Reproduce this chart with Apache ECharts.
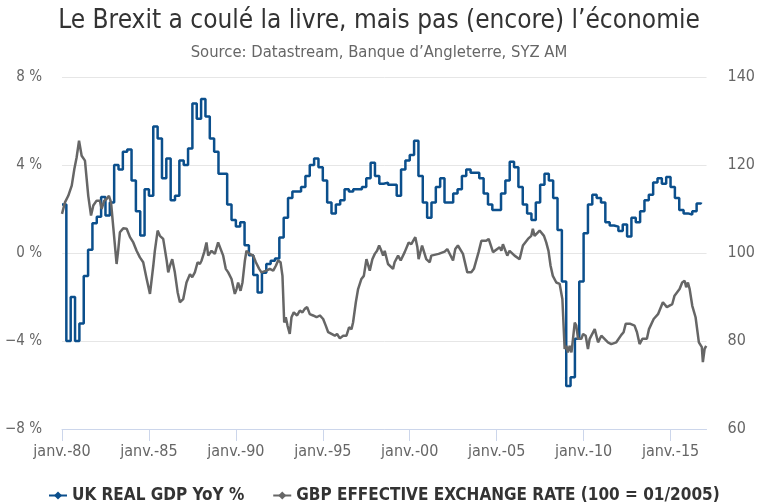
<!DOCTYPE html>
<html>
<head>
<meta charset="utf-8">
<script src="https://cdn.jsdelivr.net/npm/echarts@6/dist/echarts.min.js"></script>
<style>
  html, body { margin: 0; padding: 0; background: #fff; }
  #chart { width: 758px; height: 504px; }
</style>
</head>
<body>
<div id="chart"></div>
<script>
// PIB réel UK, glissement annuel en %, un point par trimestre (T1 1980 -> T4 2016)
const gdpStartYear = 1980;
const gdpYoY = [
  2.2, -4.0, -2.0, -4.0,
  -3.2, -1.05, 0.15, 1.35,
  1.65, 2.55, 1.7, 2.3,
  4.0, 3.8, 4.6, 4.7,
  3.3, 1.9, 0.8, 2.9,
  2.6, 5.75, 5.2, 3.4,
  4.3, 2.4, 2.6, 4.2,
  4.0, 4.75, 6.8, 6.1,
  7.0, 6.2, 5.2, 4.6,
  3.6, 3.6, 2.2, 1.5,
  1.2, 1.4, 0.35, -0.1,
  -1.0, -1.8, -0.9, -0.5,
  -0.35, -0.25, 0.7, 1.6,
  2.5, 2.8, 2.8, 3.0,
  3.5, 4.0, 4.3, 3.9,
  3.3, 2.3, 1.8, 2.2,
  2.4, 2.9, 2.8, 2.9,
  2.9, 3.0, 3.4, 4.1,
  3.5, 3.15, 3.2, 3.1,
  3.1, 2.6, 3.8, 4.2,
  4.45, 5.1, 3.5, 2.3,
  1.6, 2.3, 3.0, 3.4,
  2.3, 2.3, 2.7, 2.9,
  3.5, 3.8, 3.65, 3.65,
  3.4, 2.7, 2.2, 1.95,
  1.95, 2.7, 3.3, 4.15,
  3.9, 3.0, 2.2, 1.8,
  1.5, 2.3, 3.1, 3.6,
  3.3, 2.5, 1.05, -1.3,
  -6.05, -5.65, -3.9, -1.3,
  0.9, 2.2, 2.65, 2.5,
  2.3, 1.4, 1.25, 1.2,
  1.0, 1.3, 0.75, 1.6,
  1.4, 1.9, 2.4, 2.65,
  3.2, 3.4, 3.15, 3.45,
  3.0, 2.5, 1.95, 1.8,
  1.75, 1.9, 2.25, 2.3
];

// taux de change effectif GBP (100 = 01/2005)
const fxYears = [
  1980.00, 1980.17, 1980.36, 1980.56, 1980.71, 1980.84, 1980.98, 1981.03, 1981.13, 1981.32,
  1981.42, 1981.51, 1981.67, 1981.80, 1981.99, 1982.18, 1982.28, 1982.43, 1982.57, 1982.70,
  1982.82, 1982.95, 1983.14, 1983.24, 1983.33, 1983.52, 1983.72, 1983.91, 1984.10, 1984.29,
  1984.48, 1984.67, 1984.87, 1985.06, 1985.15, 1985.25, 1985.34, 1985.50, 1985.63, 1985.82,
  1986.02, 1986.11, 1986.21, 1986.34, 1986.49, 1986.65, 1986.78, 1986.97, 1987.16, 1987.36,
  1987.49, 1987.64, 1987.80, 1987.93, 1988.03, 1988.18, 1988.31, 1988.41, 1988.51, 1988.60,
  1988.79, 1988.98, 1989.27, 1989.42, 1989.56, 1989.75, 1989.94, 1990.04, 1990.13, 1990.27,
  1990.38, 1990.52, 1990.61, 1990.80, 1991.00, 1991.15, 1991.34, 1991.47, 1991.76, 1991.95,
  1992.15, 1992.30, 1992.43, 1992.57, 1992.68, 1992.78, 1992.87, 1992.97, 1993.10, 1993.20,
  1993.33, 1993.52, 1993.68, 1993.83, 1993.96, 1994.10, 1994.25, 1994.44, 1994.64, 1994.83,
  1995.02, 1995.17, 1995.31, 1995.50, 1995.69, 1995.82, 1995.98, 1996.17, 1996.36, 1996.51,
  1996.65, 1996.74, 1996.90, 1997.03, 1997.22, 1997.36, 1997.51, 1997.61, 1997.70, 1997.85,
  1997.99, 1998.12, 1998.24, 1998.37, 1998.47, 1998.56, 1998.75, 1999.04, 1999.13, 1999.33,
  1999.48, 1999.71, 1999.94, 2000.09, 2000.32, 2000.44, 2000.51, 2000.71, 2000.95, 2001.15,
  2001.24, 2001.66, 2002.01, 2002.16, 2002.49, 2002.62, 2002.77, 2003.06, 2003.31, 2003.54,
  2003.69, 2003.96, 2004.12, 2004.40, 2004.54, 2004.79, 2005.17, 2005.27, 2005.36, 2005.61,
  2005.74, 2006.03, 2006.32, 2006.51, 2006.80, 2006.99, 2007.08, 2007.18, 2007.47, 2007.56,
  2007.72, 2007.85, 2007.98, 2008.10, 2008.23, 2008.43, 2008.62, 2008.78, 2008.91, 2009.01,
  2009.10, 2009.20, 2009.30, 2009.39, 2009.49, 2009.58, 2009.68, 2009.87, 2009.97, 2010.12,
  2010.25, 2010.35, 2010.64, 2010.83, 2011.02, 2011.12, 2011.40, 2011.59, 2011.88, 2012.17,
  2012.30, 2012.42, 2012.69, 2012.93, 2013.07, 2013.22, 2013.38, 2013.64, 2013.76, 2014.03,
  2014.28, 2014.56, 2014.79, 2015.10, 2015.23, 2015.52, 2015.67, 2015.81, 2015.90, 2016.00,
  2016.10, 2016.25, 2016.44, 2016.52, 2016.63, 2016.80, 2016.86, 2016.96, 2017.05
];
const fxValues = [
  108.9, 111.5, 113.0, 115.3, 119.1, 121.7, 125.5, 125.9, 122.1, 121.0,
  116.8, 113.0, 108.5, 110.8, 111.9, 111.9, 110.0, 111.9, 112.3, 113.0,
  111.5, 105.8, 97.5, 100.9, 104.7, 105.6, 105.5, 103.6, 102.4, 100.5,
  99.0, 97.9, 94.1, 90.7, 91.1, 97.1, 100.5, 105.1, 103.9, 103.2,
  98.3, 95.6, 97.1, 98.6, 95.6, 91.1, 88.8, 89.5, 93.3, 95.2,
  94.5, 95.6, 97.9, 97.5, 98.3, 100.2, 102.4, 99.4, 99.4, 100.5,
  99.8, 102.4, 99.4, 96.4, 95.6, 94.1, 90.7, 91.8, 93.3, 91.4,
  93.3, 98.3, 100.5, 99.8, 99.4, 97.9, 96.4, 95.6, 96.0, 96.4,
  96.0, 97.1, 98.3, 97.9, 94.8, 84.2, 85.4, 83.5, 81.6, 85.4,
  86.5, 85.8, 86.9, 86.5, 87.3, 87.7, 86.1, 85.8, 85.4, 85.8,
  85.0, 83.5, 82.0, 81.6, 81.2, 81.6, 80.6, 81.2, 81.2, 83.1,
  82.7, 84.2, 88.8, 91.8, 94.1, 94.8, 98.6, 98.6, 96.0, 98.6,
  99.8, 100.5, 101.7, 100.5, 99.4, 100.5, 97.5, 96.4, 97.9, 99.4,
  98.3, 100.2, 102.4, 102.0, 103.6, 101.3, 98.6, 101.7, 98.6, 97.9,
  99.4, 99.8, 100.3, 100.9, 98.3, 100.9, 101.7, 99.8, 95.6, 95.6,
  96.4, 100.2, 102.8, 102.8, 103.2, 100.2, 101.3, 100.5, 102.0, 99.4,
  100.5, 99.4, 98.6, 101.7, 103.2, 103.9, 105.5, 103.9, 105.1, 105.5,
  103.9, 102.4, 100.5, 97.1, 94.8, 93.3, 93.0, 89.5, 78.2, 78.9,
  77.4, 78.9, 77.4, 80.5, 84.2, 83.5, 80.5, 80.5, 81.6, 81.2,
  78.2, 80.5, 82.7, 79.7, 81.2, 81.6, 79.7, 79.3, 79.7, 81.4,
  82.0, 83.9, 83.9, 83.5, 82.0, 79.3, 80.5, 80.5, 82.7, 85.0,
  86.1, 88.8, 87.7, 88.4, 90.3, 91.8, 93.3, 93.7, 92.2, 93.3,
  91.8, 88.0, 85.4, 85.8, 79.7, 78.6, 75.2, 78.2, 78.9
];

const leftTicks = [-8, -4, 0, 4, 8];
const rightTicks = [60, 80, 100, 120, 140];
const xLabelPrefix = 'janv.-';

const FONT = '"DejaVu Sans Condensed", "DejaVu Sans", sans-serif';

const chart = echarts.init(document.getElementById('chart'));

chart.setOption({
  animation: false,
  backgroundColor: '#fff',
  textStyle: { fontFamily: FONT },
  title: {
    text: 'Le Brexit a coulé la livre, mais pas (encore) l\u2019économie',
    subtext: 'Source: Datastream, Banque d\u2019Angleterre, SYZ AM',
    left: 'center',
    top: 3,
    itemGap: 10,
    textStyle: { fontFamily: FONT, fontSize: 26, fontWeight: 'normal', color: '#333' },
    subtextStyle: { fontFamily: FONT, fontSize: 16.5, color: '#666' }
  },
  legend: {
    top: 482,
    left: 43,
    itemGap: 28,
    itemWidth: 18,
    itemHeight: 10,
    textStyle: { fontFamily: FONT, fontSize: 17, fontWeight: 'bold', color: '#333' }
  },
  grid: { left: 62, right: 51, top: 77, bottom: 75 },
  xAxis: {
    type: 'value',
    min: 1980,
    max: 2017.07,
    interval: 5,
    splitLine: { show: false },
    axisLine: { onZero: false, lineStyle: { color: '#ccd6eb' } },
    axisTick: { length: 12, lineStyle: { color: '#ccd6eb' } },
    axisLabel: {
      color: '#666',
      fontSize: 16,
      margin: 15,
      showMaxLabel: false,
      formatter: v => xLabelPrefix + String(v).slice(2)
    }
  },
  yAxis: [
    {
      type: 'value',
      min: leftTicks[0],
      max: leftTicks[leftTicks.length - 1],
      interval: 4,
      axisLine: { show: false },
      axisTick: { show: false },
      splitLine: { lineStyle: { color: '#e6e6e6' } },
      axisLabel: {
        color: '#666',
        fontSize: 15,
        margin: 20,
        formatter: v => (v < 0 ? '\u2212' + Math.abs(v) : v) + ' %'
      }
    },
    {
      type: 'value',
      min: rightTicks[0],
      max: rightTicks[rightTicks.length - 1],
      interval: 20,
      axisLine: { show: false },
      axisTick: { show: false },
      splitLine: { show: false },
      axisLabel: { color: '#666', fontSize: 16, margin: 21 }
    }
  ],
  series: [
    {
      name: 'UK REAL GDP YoY %',
      type: 'line',
      yAxisIndex: 0,
      step: 'end',
      symbol: 'diamond',
      symbolSize: 10,
      showSymbol: false,
      color: '#0b4f8c',
      lineStyle: { width: 2.5, color: '#0b4f8c' },
      data: gdpYoY.map((v, i) => [gdpStartYear + i / 4, v])
    },
    {
      name: 'GBP EFFECTIVE EXCHANGE RATE (100 = 01/2005)',
      type: 'line',
      yAxisIndex: 1,
      symbol: 'diamond',
      symbolSize: 10,
      showSymbol: false,
      color: '#666666',
      lineStyle: { width: 2.5, color: '#666666' },
      data: fxYears.map((y, i) => [y, fxValues[i]])
    }
  ]
});
</script>
</body>
</html>
